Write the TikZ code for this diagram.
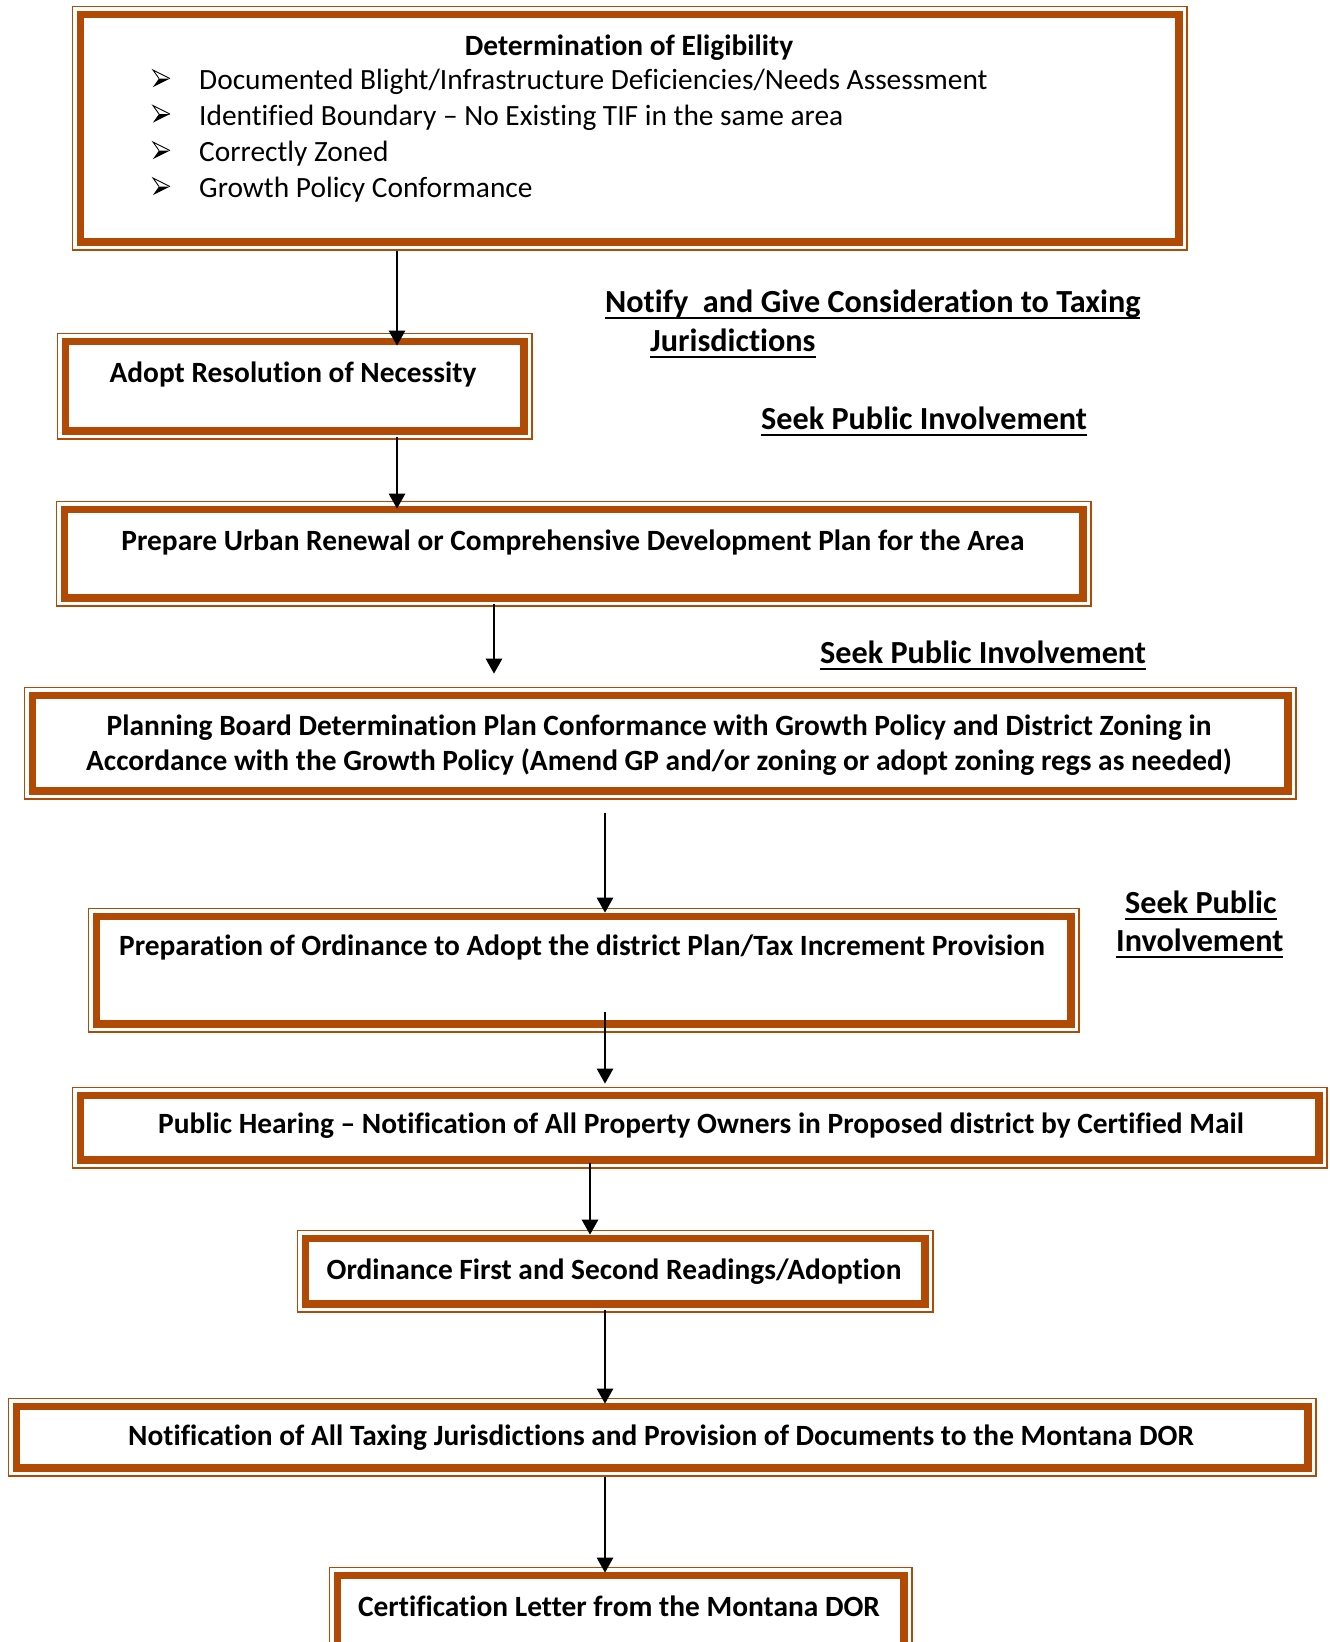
\documentclass[tikz,border=0pt]{standalone}
\usepackage{fontspec}
\setmainfont{Carlito}[Ligatures=NoCommon]
\usetikzlibrary{arrows.meta,calc}
\definecolor{brn}{RGB}{176,74,4}
\newcommand\ulx[1]{\setbox0\hbox{#1}\rlap{\rule[-7pt]{\wd0}{1.9pt}}\box0}
\newcommand\fb[5]{\node[fbox, minimum width={#4-#2-1.4}, minimum height={#5-#3-1.4}] (#1) at (#2+0.7,#3+0.7) {};}
\newcommand\bularrow[1]{%
  \fill[black] ($(#1.base west)+(-29,-11)$) -- ($(#1.base west)+(-46,-2.5)$) -- ($(#1.base west)+(-40,-11)$) -- cycle;
  \draw[black, line width=0.9pt, line join=miter] ($(#1.base west)+(-29,-11)$) -- ($(#1.base west)+(-46,-19.5)$) -- ($(#1.base west)+(-40,-11)$);}
\begin{document}
\begin{tikzpicture}[x=1pt,y=-1pt,
  fbox/.style={draw=brn, line width=1.3pt, anchor=north west, inner sep=0pt,
    path picture={\draw[brn,line width=7.7pt] ([shift={(8.25pt,-8.25pt)}]path picture bounding box.north west) rectangle ([shift={(-8.25pt,8.25pt)}]path picture bounding box.south east);}},
  btxt/.style={anchor=base, inner sep=0pt, font=\fontsize{29.4}{35}\selectfont\bfseries, align=center},
  ltxt/.style={anchor=base west, inner sep=0pt, font=\fontsize{32.2}{38}\selectfont\bfseries},
  rtxt/.style={anchor=base west, inner sep=0pt, font=\fontsize{29.4}{35}\selectfont},
  arr/.style={-{Triangle[length=15pt,width=16pt]}, line width=2.6pt, black}]
\useasboundingbox (0,0) rectangle (1330,1642);
\clip (0,0) rectangle (1330,1642);
\fb{b1}{71}{5}{1187}{250}
\fb{b2}{56}{332}{532}{439}
\fb{b3}{55}{500}{1091}{606}
\fb{b4}{23}{686}{1296}{799}
\fb{b5}{87}{907}{1079}{1032}
\fb{b6}{71}{1086}{1327}{1168}
\fb{b7}{296}{1229}{933}{1312}
\fb{b8}{7}{1397}{1316}{1476}
\fb{b9}{328}{1566}{912}{1700}
% box texts
\node[btxt] (t1) at (629,55) {Determination of Eligibility};
\node[rtxt] (r1) at (199,89.5) {Documented Blight/Infrastructure Deficiencies/Needs Assessment};
\node[rtxt] (r2) at (199,125) {Identified Boundary – No Existing TIF in the same area};
\node[rtxt] (r3) at (199,161.5) {Correctly Zoned};
\node[rtxt] (r4) at (199,197.5) {Growth Policy Conformance};
\bularrow{r1}
\bularrow{r2}
\bularrow{r3}
\bularrow{r4}
\node[btxt] (t2) at (293,382) {Adopt Resolution of Necessity};
\node[btxt] (t3) at (573,550) {Prepare Urban Renewal or Comprehensive Development Plan for the Area};
\node[btxt] (t4a) at (659,735) {Planning Board Determination Plan Conformance with Growth Policy and District Zoning in};
\node[btxt] (t4b) at (659,770) {Accordance with the Growth Policy (Amend GP and/or zoning or adopt zoning regs as needed)};
\node[btxt] (t5) at (582,955) {Preparation of Ordinance to Adopt the district Plan/Tax Increment Provision};
\node[btxt] (t6) at (701,1133) {Public Hearing – Notification of All Property Owners in Proposed district by Certified Mail};
\node[btxt] (t7) at (614,1279) {Ordinance First and Second Readings/Adoption};
\node[btxt] (t8) at (661,1445) {Notification of All Taxing Jurisdictions and Provision of Documents to the Montana DOR};
\node[btxt] (t9) at (619,1616) {Certification Letter from the Montana DOR};
% side labels
\node[ltxt] (l1) at (605,312) {\ulx{Notify~ and Give Consideration to Taxing}};
\node[ltxt] (l2) at (650,351) {\ulx{Jurisdictions}};
\node[ltxt] (l3) at (761,429) {\ulx{Seek Public Involvement}};
\node[ltxt] (l4) at (820,663) {\ulx{Seek Public Involvement}};
\node[ltxt] (l5) at (1125,913) {\ulx{Seek Public}};
\node[ltxt] (l6) at (1116,951) {\ulx{Involvement}};
% connectors
\coordinate (xa) at (397,0);
\coordinate (xb) at (494,0);
\coordinate (xc) at (605,0);
\coordinate (xd) at (590,0);
\draw[arr] (b1.south -| xa) -- ($(b2.north -| xa)+(0,13)$);
\draw[arr] ($(b2.south -| xa)+(0,-3)$) -- ($(b3.north -| xa)+(0,8)$);
\draw[arr] ($(b3.south -| xb)+(0,-3)$) -- ($(b4.north -| xb)+(0,-13)$);
\draw[arr] ($(b4.south -| xc)+(0,13)$) -- ($(b5.north -| xc)+(0,5)$);
\draw[arr] ($(b5.south -| xc)+(0,-21)$) -- ($(b6.north -| xc)+(0,-3)$);
\draw[arr] ($(b6.south -| xd)+(0,-6)$) -- ($(b7.north -| xd)+(0,5)$);
\draw[arr] ($(b7.south -| xc)+(0,-3)$) -- ($(b8.north -| xc)+(0,6)$);
\draw[arr] (b8.south -| xc) -- ($(b9.north -| xc)+(0,6)$);
\end{tikzpicture}
\end{document}
